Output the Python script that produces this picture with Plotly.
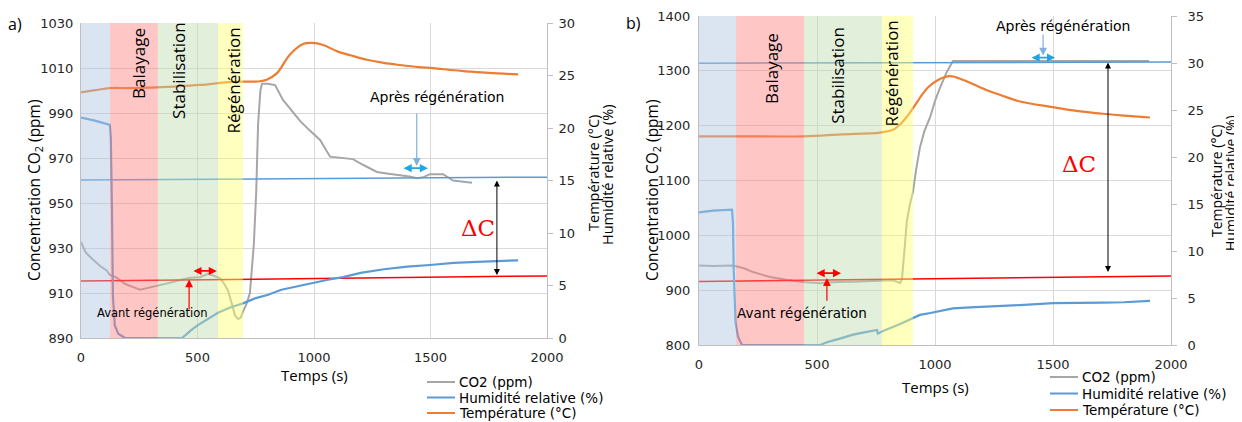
import plotly.graph_objects as go

# the page body keeps its default 8 px margin: draw on a slightly smaller canvas
OFF = 8
W, H = 1242 - OFF, 422 - OFF

# ---------------- panel a) data ----------------
t_co2_a = [0, 20, 50, 82, 110, 124, 150, 190, 253, 300, 339, 380, 425, 470, 511, 545, 575, 597, 615,
           631, 648, 661, 674, 685, 695, 710, 725, 742, 752, 760, 770, 777, 800, 833, 867, 940, 980,
           1026, 1069, 1124, 1167, 1210, 1270, 1320, 1369, 1410, 1442, 1470, 1498, 1554, 1597, 1640, 1678]
co2_a = [932.7, 928, 925, 922, 920, 918, 917, 914, 911.5, 912.5, 913.5, 914.5, 915.8, 916.8, 917, 918.5,
         917.5, 916.5, 914, 911, 905, 900, 898.4, 899, 901.7, 905, 910, 932, 955, 985, 1000, 1003, 1003,
         1002.4, 995.8, 986.5, 982.4, 978, 970.6, 970, 969.5, 967, 963.8, 963, 962.4, 961.8, 961, 961.5,
         962.8, 962.8, 960, 959.5, 959]

t_hr_a = [0, 60, 124, 128, 133, 137, 145, 160, 189, 433, 450, 470, 500, 550, 588, 640, 695, 750, 800,
          860, 940, 1000, 1060, 1124, 1200, 1300, 1400, 1498, 1600, 1700, 1800, 1876]
hr_a = [21.0, 20.7, 20.3, 19, 12, 4, 1.2, 0.4, 0, 0, 0.3, 0.7, 1.2, 1.9, 2.4, 2.9, 3.3, 3.8, 4.1,
        4.6, 5.0, 5.3, 5.55, 5.8, 6.2, 6.55, 6.8, 6.95, 7.15, 7.25, 7.35, 7.4]

t_temp_a = [0, 60, 124, 200, 300, 400, 511, 652, 768, 797, 840, 897, 953, 991, 1040, 1100, 1160, 1227,
            1300, 1369, 1450, 1511, 1600, 1657, 1750, 1876]
temp_a = [23.4, 23.6, 23.8, 23.8, 23.85, 23.95, 24.1, 24.4, 24.45, 24.6, 25.2, 27.0, 28.0, 28.1, 27.9,
          27.3, 26.9, 26.5, 26.2, 26.0, 25.8, 25.7, 25.5, 25.4, 25.25, 25.1]

t_ref = [0, 2000]
after_a = [960.2, 961.5]    # ligne "après régénération"
before_a = [915.3, 917.6]   # ligne "avant régénération"

phases_a = [0, 124, 330, 588, 695]

# ---------------- panel b) data ----------------
t_co2_b = [0, 60, 144, 190, 229, 301, 370, 441, 513, 585, 650, 725, 822, 852, 860, 866, 873, 881, 893,
           907, 920, 936, 955, 979, 1000, 1021, 1050, 1076, 1300, 1600, 1907]
co2_b = [945, 944, 945, 940, 933, 924, 919, 915, 912.7, 915, 915.5, 916, 918, 913, 920, 950, 990, 1027,
         1055, 1080, 1120, 1160, 1190, 1215, 1245, 1269, 1298, 1318, 1318, 1318, 1318]

t_hr_b = [0, 60, 140, 144, 147, 151, 155, 165, 182, 513, 542, 600, 653, 700, 754, 758, 780, 850, 907,
          936, 980, 1021, 1076, 1150, 1200, 1280, 1360, 1500, 1600, 1712, 1800, 1911]
hr_b = [14.1, 14.3, 14.4, 13, 8, 4, 2.4, 0.9, 0, 0, 0.3, 0.7, 1.1, 1.35, 1.6, 1.2, 1.5, 2.2, 2.9,
        3.2, 3.4, 3.6, 3.9, 4.0, 4.05, 4.15, 4.25, 4.45, 4.45, 4.5, 4.55, 4.7]

t_temp_b = [0, 157, 445, 600, 767, 822, 850, 881, 910, 936, 970, 1013, 1064, 1120, 1220, 1300, 1360,
            1500, 1600, 1712, 1800, 1911]
temp_b = [22.2, 22.2, 22.2, 22.4, 22.6, 22.9, 23.4, 24.3, 25.3, 26.3, 27.4, 28.2, 28.6, 28.2, 27.1,
          26.4, 25.9, 25.3, 24.9, 24.6, 24.4, 24.2]

after_b = [1314, 1316]
before_b = [916, 926]

phases_b = [0, 157, 445, 775, 907]

phase_names = ["", "Balayage", "Stabilisation", "Régénération"]
phase_colors = ["rgba(175,198,226,0.45)", "rgba(255,128,128,0.45)",
                "rgba(190,220,172,0.45)", "rgba(255,255,110,0.45)"]

series_names = ["CO2 (ppm)", "Humidité relative (%)", "Température (°C)"]

GRAY, BLUE, ORANGE, RED = "#a6a6a6", "#5b9bd5", "#ed7d31", "#ff0000"
series_colors = [GRAY, BLUE, ORANGE]
TICKF = dict(family="DejaVu Sans", size=13, color="#262626")
TXTF = "Open Sans"


# screen pixel -> paper fraction
def py(p):
    return 1 - (p - OFF) / H


def px_(p):
    return (p - OFF) / W


fig = go.Figure()

for xa, yl, yr, data in [("x", "y", "y2", (t_co2_a, co2_a, t_hr_a, hr_a, t_temp_a, temp_a, after_a, before_a)),
                         ("x2", "y3", "y4", (t_co2_b, co2_b, t_hr_b, hr_b, t_temp_b, temp_b, after_b, before_b))]:
    tc, c, th, h, tt, tp, aft, bef = data
    fig.add_trace(go.Scatter(x=tc, y=c, name=series_names[0], mode="lines",
                             line=dict(color=GRAY, width=2), xaxis=xa, yaxis=yl))
    fig.add_trace(go.Scatter(x=th, y=h, name=series_names[1], mode="lines",
                             line=dict(color=BLUE, width=2.2), xaxis=xa, yaxis=yr))
    fig.add_trace(go.Scatter(x=tt, y=tp, name=series_names[2], mode="lines", line_shape="spline",
                             line=dict(color=ORANGE, width=2.2), xaxis=xa, yaxis=yr))
    fig.add_trace(go.Scatter(x=t_ref, y=aft, mode="lines", line=dict(color=BLUE, width=1.5),
                             xaxis=xa, yaxis=yl))
    fig.add_trace(go.Scatter(x=t_ref, y=bef, mode="lines", line=dict(color=RED, width=1.5),
                             xaxis=xa, yaxis=yl))

# shaded phases + their labels
label_y_a = [0, 0.873, 0.851, 0.819]
label_y_b = [0, 0.839, 0.821, 0.827]
shift_a = [0, 4, -9, 3]
shift_b = [0, 2, -5, -6]
for phases, xr, yr, ly, sh in [(phases_a, "x", "y", label_y_a, shift_a),
                               (phases_b, "x2", "y3", label_y_b, shift_b)]:
    for i in range(4):
        fig.add_shape(type="rect", xref=xr, yref=yr + " domain", x0=phases[i], x1=phases[i + 1],
                      y0=0, y1=1, fillcolor=phase_colors[i], line_width=0, layer="above")
        if phase_names[i]:
            fig.add_annotation(x=(phases[i] + phases[i + 1]) / 2, y=ly[i], xref=xr, yref=yr + " domain",
                               xanchor="center", yanchor="middle",
                               xshift=sh[i], text=phase_names[i], textangle=-90, showarrow=False,
                               font=dict(family=TXTF, size=17, color="#000"))

ax_common = dict(showgrid=True, gridcolor="#d9d9d9", zeroline=False, showline=True,
                 linecolor="#bfbfbf", tickfont=TICKF, automargin=False)
ax_right = dict(showgrid=False, zeroline=False, showline=True, linecolor="#bfbfbf", ticks="outside",
                ticklen=5, tickcolor="#bfbfbf", tickfont=TICKF, automargin=False)

fig.update_layout(
    width=W, height=H, margin=dict(l=0, r=0, t=0, b=0),
    paper_bgcolor="white", plot_bgcolor="white", showlegend=False,
    xaxis=dict(domain=[px_(81), px_(547)], range=[0, 2000], tickvals=[0, 500, 1000, 1500, 2000],
               anchor="y", ticklabelstandoff=7, **ax_common),
    yaxis=dict(domain=[py(338), py(23)], range=[890, 1030], tick0=890, dtick=20, anchor="x",
               ticklabelstandoff=4, **ax_common),
    yaxis2=dict(overlaying="y", side="right", range=[0, 30], dtick=5, anchor="x",
                ticklabelstandoff=3, **ax_right),
    xaxis2=dict(domain=[px_(699), px_(1171)], range=[0, 2000], tickvals=[0, 500, 1000, 1500, 2000],
                anchor="y3", ticklabelstandoff=7, **ax_common),
    yaxis3=dict(domain=[py(345), py(16)], range=[800, 1400], tick0=800, dtick=100, anchor="x2",
                ticklabelstandoff=5, **ax_common),
    yaxis4=dict(overlaying="y3", side="right", range=[0, 35], dtick=5, anchor="x2",
                ticklabelstandoff=8, **ax_right),
)

# legends (one per panel)
legend_pos = [(427, 382, 15.5), (1050, 377, 16.5)]
for lx, ly, step in legend_pos:
    for i in range(3):
        yy = ly + i * step
        fig.add_shape(type="line", xref="paper", yref="paper", x0=px_(lx), x1=px_(lx + 28),
                      y0=py(yy), y1=py(yy), line=dict(color=series_colors[i], width=2))
        fig.add_annotation(x=px_(lx + 30), y=py(yy), xref="paper", yref="paper", text=series_names[i],
                           showarrow=False, xanchor="left", yanchor="middle",
                           font=dict(family="DejaVu Sans", size=13.5, color="#000"))

# axis titles and panel letters
titles = [
    ("a)", 15, 24, 0, 16),
    ("b)", 633, 23, 0, 16),
    ("Concentration CO<sub>2</sub> (ppm)", 35, 190, -90, 15.5),
    ("Température (°C)", 593, 173, -90, 14.5),
    ("Humidité relative (%)", 607, 175, -90, 14.5),
    ("Temps (s)", 314, 375, 0, 15),
    ("Concentration CO<sub>2</sub> (ppm)", 653, 190, -90, 15.5),
    ("Température (°C)", 1216, 181, -90, 14),
    ("Humidité relative (%)", 1230, 183, -90, 14),
    ("Temps (s)", 935, 387, 0, 15),
]
for txt, x, y, ang, sz in titles:
    fig.add_annotation(x=px_(x), y=py(y), xref="paper", yref="paper", text=txt, textangle=ang,
                       showarrow=False, xanchor="center", yanchor="middle",
                       font=dict(family=TXTF, size=sz, color="#000"))

# arrows and notes
arrow_sets = [
    ("x", "y", dict(dbl_red=(476, 583, 919.8), up_red=(464, 902, 916), avant=(305, 901, 11.5),
                    dbl_blue=(1378, 1489, 965.5), down_blue=(1441, 990.4, 966.5), apres=(1527, 997),
                    dc=(1785, 960.7, 918), dc_txt=(1704, 939))),
    ("x2", "y3", dict(dbl_red=(492, 602, 931), up_red=(542, 878, 922), avant=(436, 858, 13.5),
                      dbl_blue=(1403, 1509, 1324), down_blue=(1458, 1369, 1328), apres=(1543, 1382),
                      dc=(1733, 1318, 933), dc_txt=(1610, 1131))),
]
for xr, yr, a in arrow_sets:
    ref = dict(xref=xr, yref=yr, axref=xr, ayref=yr, text="", showarrow=True)
    x0, x1, yy = a["dbl_red"]
    fig.add_annotation(x=x1, y=yy, ax=x0, ay=yy, arrowside="end+start", arrowhead=2, arrowsize=0.9,
                       arrowwidth=1.8, arrowcolor=RED, **ref)
    xx, y0, y1 = a["up_red"]
    fig.add_annotation(x=xx, y=y1, ax=xx, ay=y0, arrowhead=2, arrowsize=1.3, arrowwidth=1.2,
                       arrowcolor=RED, **ref)
    tx, ty, fs = a["avant"]
    fig.add_annotation(x=tx, y=ty, xref=xr, yref=yr, text="Avant régénération", showarrow=False,
                       font=dict(family="DejaVu Sans", size=fs, color="#000"))
    x0, x1, yy = a["dbl_blue"]
    fig.add_annotation(x=x1, y=yy, ax=x0, ay=yy, arrowside="end+start", arrowhead=2, arrowsize=0.9,
                       arrowwidth=1.8, arrowcolor="#1fa6e8", **ref)
    xx, y0, y1 = a["down_blue"]
    fig.add_annotation(x=xx, y=y1, ax=xx, ay=y0, arrowhead=2, arrowsize=1.3, arrowwidth=1.2,
                       arrowcolor="#7fb0e0", **ref)
    tx, ty = a["apres"]
    fig.add_annotation(x=tx, y=ty, xref=xr, yref=yr, text="Après régénération", showarrow=False,
                       font=dict(family="DejaVu Sans", size=14, color="#000"))
    xx, y0, y1 = a["dc"]
    fig.add_annotation(x=xx, y=y1, ax=xx, ay=y0, arrowside="end+start", arrowhead=2, arrowsize=1.2,
                       arrowwidth=1, arrowcolor="#000", **ref)
    tx, ty = a["dc_txt"]
    fig.add_annotation(x=tx, y=ty, xref=xr, yref=yr, text="ΔC", showarrow=False,
                       font=dict(family="DejaVu Serif", size=23, color=RED))

fig.write_html("out.html")
